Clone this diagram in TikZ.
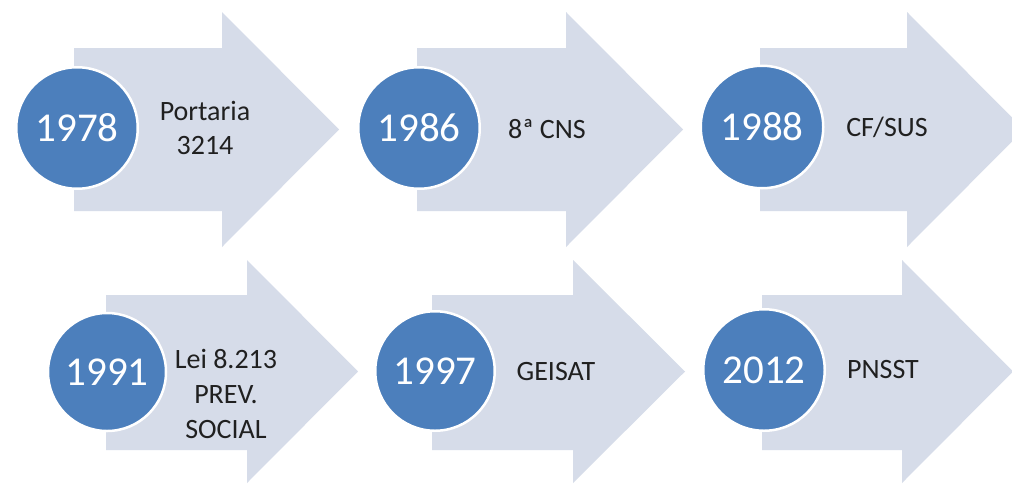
\documentclass[tikz,border=0pt]{standalone}
\usepackage{fontspec}
\setmainfont{Carlito}
\definecolor{arrowfill}{RGB}{214,220,233}
\definecolor{circfill}{RGB}{76,127,188}
\definecolor{labeltext}{RGB}{32,32,32}
\begin{document}
\begin{tikzpicture}[x=1pt,y=-1pt,
  yearnode/.style={circle, fill=circfill, draw=white, line width=2.5pt,
    minimum size=#1, inner sep=0pt, text=white,
    font=\fontsize{41}{41}\selectfont},
  evtnode/.style={align=center, text=labeltext, inner sep=0pt,
    font=\fontsize{28}{34}\selectfont},
  arrowshape/.style={fill=arrowfill, draw=none}]
\clip (0,0) rectangle (1012,485);
\fill[white] (0,0) rectangle (1012,485);
% top row arrows
\fill[arrowshape] (74,48) -- (222,48) -- (222,12) -- (339,129.5) -- (222,247) -- (222,211) -- (74,211) -- cycle;
\fill[arrowshape] (417,48) -- (566,48) -- (566,12) -- (683,129.5) -- (566,247) -- (566,211) -- (417,211) -- cycle;
\fill[arrowshape] (760,48) -- (907,48) -- (907,12) -- (1024,129.5) -- (907,247) -- (907,211) -- (760,211) -- cycle;
% bottom row arrows
\fill[arrowshape] (106,295) -- (247,295) -- (247,260) -- (358,371.5) -- (247,483) -- (247,450) -- (106,450) -- cycle;
\fill[arrowshape] (432,295) -- (573,295) -- (573,260) -- (685,371.5) -- (573,483) -- (573,450) -- (432,450) -- cycle;
\fill[arrowshape] (762,295) -- (902,295) -- (902,260) -- (1013,371.5) -- (902,483) -- (902,450) -- (762,450) -- cycle;
% circles
\node[yearnode=121.5pt] (y1978) at (77,128) {1978};
\node[yearnode=121.5pt] (y1986) at (419,128) {1986};
\node[yearnode=122.5pt] (y1988) at (762,127) {1988};
\node[yearnode=118pt] (y1991) at (107,372) {1991};
\node[yearnode=119.5pt] (y1997) at (435,371) {1997};
\node[yearnode=121.5pt] (y2012) at (764,370) {2012};
% labels
\node[evtnode] (l1978) at (205,128) {Portaria\\3214};
\node[evtnode] (l1986) at (547,129) {8ª CNS};
\node[evtnode] (l1988) at (887,127) {CF/SUS};
\node[evtnode, font=\fontsize{28}{35}\selectfont] (l1991) at (226,394) {Lei 8.213\\PREV.\\SOCIAL};
\node[evtnode] (l1997) at (556,372) {GEISAT};
\node[evtnode] (l2012) at (883,370) {PNSST};
\end{tikzpicture}
\end{document}
